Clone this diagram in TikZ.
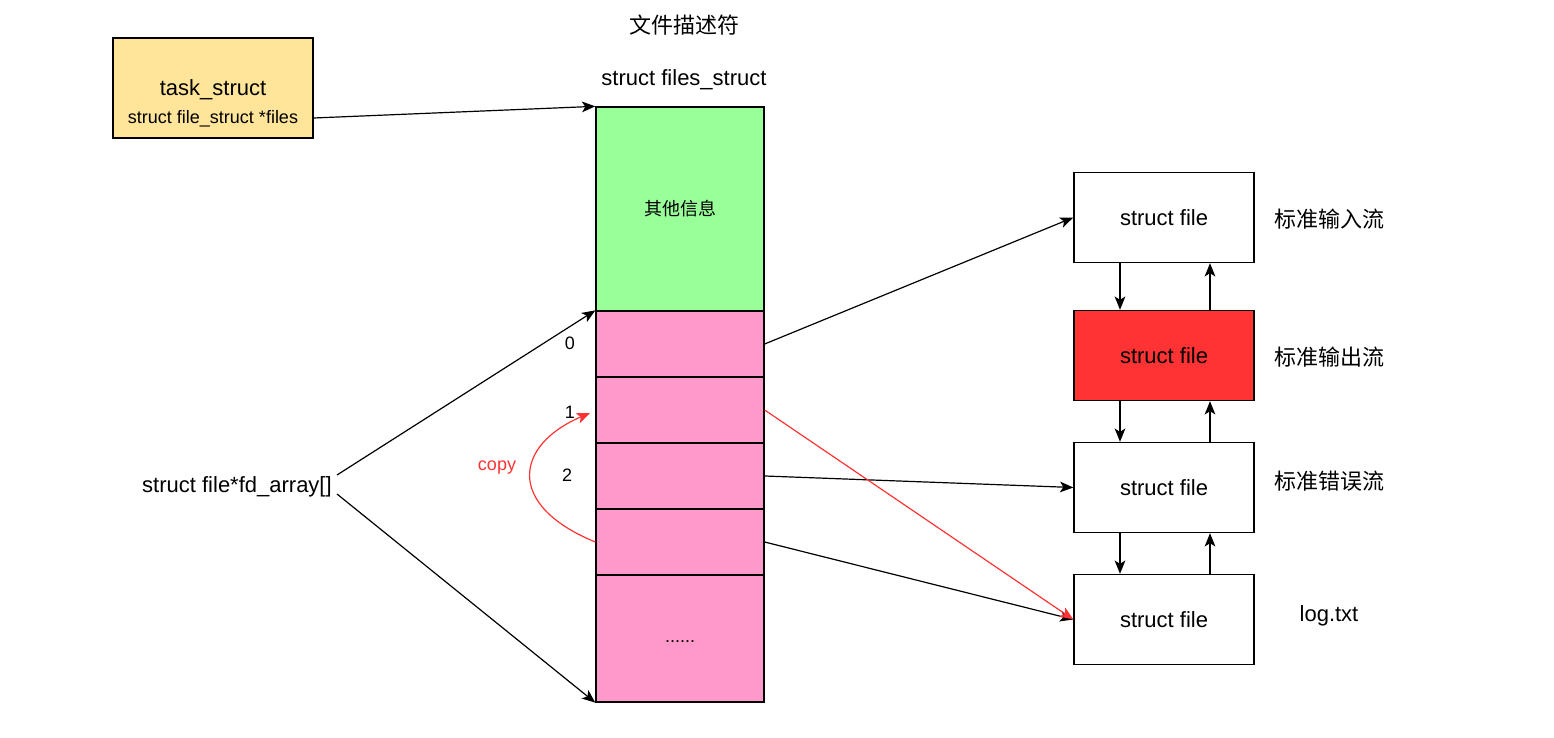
\documentclass[tikz,border=0pt]{standalone}
\usepackage{fontspec}
\setmainfont{Liberation Sans}
\newfontfamily\cjk{Noto Sans CJK SC}
\usetikzlibrary{arrows.meta}
\definecolor{taskY}{HTML}{FFE599}
\definecolor{grn}{HTML}{99FF99}
\definecolor{pnk}{HTML}{FF99CC}
\definecolor{redf}{HTML}{FF3333}
\begin{document}
\begin{tikzpicture}[x=0.75pt,y=-0.75pt,
  box/.style={draw=black,line width=1pt,minimum width=135pt,minimum height=67.5pt,inner sep=0pt,font=\fontsize{16.5}{18}\selectfont},
  cell/.style={draw=black,line width=1pt,fill=pnk,minimum width=126pt,inner sep=0pt},
  big/.style={font=\fontsize{16.5}{18}\selectfont,inner sep=0pt},
  small/.style={font=\fontsize{13.5}{15}\selectfont,inner sep=0pt},
  arr/.style={-{Stealth[length=10pt,width=8pt,inset=2.5pt]},line width=0.9pt},
  redarr/.style={-{Stealth[length=10pt,width=8pt,inset=2.5pt]},line width=0.9pt,draw=redf}]
\useasboundingbox (0,0) rectangle (1554,738);
% task_struct
\node[draw=black,line width=1pt,fill=taskY,minimum width=150pt,minimum height=75pt,inner sep=0pt] (task) at (213,88) {};
\node[big] (tasktitle) at (213,90) {task\_struct};
\node[small] (taskfield) at (213,119) {struct file\_struct *files};
% titles
\node[big] (title) at (684,25) {\cjk 文件描述符};
\node[big] (fstitle) at (684,80) {struct files\_struct};
% column
\node[draw=black,line width=1pt,fill=grn,minimum width=126pt,minimum height=153pt,inner sep=0pt] (other) at (680,209) {};
\node[small] (othert) at (680,209) {\cjk 其他信息};
\node[cell,minimum height=49.5pt] (c0) at (680,344) {};
\node[cell,minimum height=49.5pt] (c1) at (680,410) {};
\node[cell,minimum height=49.5pt] (c2) at (680,476) {};
\node[cell,minimum height=49.5pt] (c3) at (680,542) {};
\node[cell,minimum height=95.25pt] (c4) at (680,638.5) {};
\node[small] (dots) at (680,642) {......};
% indices
\node[small] (i0) at (570,343) {0};
\node[small] (i1) at (570,412) {1};
\node[small] (i2) at (567,475) {2};
% fd_array
\node[big] (fd) at (237,487) {struct file*fd\_array[]};
\coordinate (fdA) at (337,475);
\coordinate (fdB) at (337,494);
% right boxes
\node[box] (f0) at (1164,217.5) {struct file};
\node[box,fill=redf] (f1) at (1164,355.5) {struct file};
\node[box] (f2) at (1164,487.5) {struct file};
\node[box] (f3) at (1164,619.5) {struct file};
\node[big] (l0) at (1329,219) {\cjk 标准输入流};
\node[big] (l1) at (1329,357) {\cjk 标准输出流};
\node[big] (l2) at (1329,481) {\cjk 标准错误流};
\node[big] (l3) at (1329,616) {log.txt};
% arrows
\draw[arr] (task.east |- 0,118) -- (other.north west);
\draw[arr] (fdA) -- (c0.north west);
\draw[arr] (fdB) -- (c4.south west);
\draw[arr] (c0.east) -- (f0.west);
\draw[arr] (c2.east) -- (f2.west);
\draw[arr] (c3.east) -- (f3.west);
\draw[redarr] (c1.east) -- (f3.west);
\draw[redarr] (c3.west) .. controls (505,505) and (515,445) .. (590,413);
\node[small,text=redf] (copy) at (497,468) {copy};
% vertical arrows
\foreach \a/\b in {f0/f1,f1/f2,f2/f3}{
  \draw[arr] ([xshift=-33pt]\a.south) -- ([xshift=-33pt]\b.north);
  \draw[arr] ([xshift=34.5pt]\b.north) -- ([xshift=34.5pt]\a.south);
}
\end{tikzpicture}
\end{document}
